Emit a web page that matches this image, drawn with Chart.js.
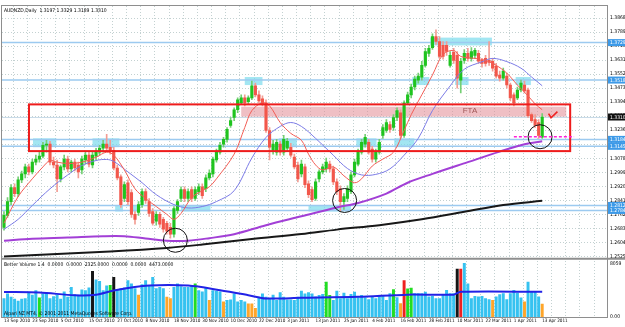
<!DOCTYPE html>
<html>
<head>
<meta charset="utf-8">
<title>AUDNZD Daily</title>
<script src="https://cdn.jsdelivr.net/npm/chart.js@4.4.1/dist/chart.umd.min.js"></script>
<style>
  html, body { margin: 0; padding: 0; background: #fff; }
  canvas { display: block; }
</style>
</head>
<body>
<canvas id="audnzdChart" width="625" height="327"></canvas>
<script>
// AUDNZD daily bars, 13 Sep 2010 .. 13 Apr 2011 (one bar per weekday)
const dateLabels = ['13 Sep 2010', '23 Sep 2010', '5 Oct 2010', '15 Oct 2010', '27 Oct 2010', '8 Nov 2010',
  '18 Nov 2010', '30 Nov 2010', '10 Dec 2010', '22 Dec 2010', '3 Jan 2011', '13 Jan 2011', '25 Jan 2011',
  '4 Feb 2011', '16 Feb 2011', '28 Feb 2011', '10 Mar 2011', '22 Mar 2011', '1 Apr 2011', '13 Apr 2011'];

const opens = [
  1.2689, 1.2756, 1.2834, 1.2912, 1.2879, 1.2956, 1.2990, 1.3029, 1.3001, 1.3056,
  1.3073, 1.3090, 1.3151, 1.3157, 1.3056, 1.3040, 1.2962, 1.3029, 1.3073, 1.3018,
  1.3056, 1.3040, 1.3012, 1.3068, 1.3095, 1.3040, 1.3090, 1.3112, 1.3134, 1.3157,
  1.3140, 1.3123, 1.3023, 1.2973, 1.2851, 1.2940, 1.2884, 1.2762, 1.2773, 1.2817,
  1.2890, 1.2834, 1.2778, 1.2723, 1.2762, 1.2734, 1.2712, 1.2689, 1.2651, 1.2784,
  1.2851, 1.2901, 1.2851, 1.2901, 1.2851, 1.2890, 1.2917, 1.2906, 1.2967, 1.2990,
  1.3068, 1.3112, 1.3157, 1.3184, 1.3262, 1.3307, 1.3351, 1.3390, 1.3418, 1.3396,
  1.3418, 1.3485, 1.3435, 1.3412, 1.3390, 1.3234, 1.3123, 1.3112, 1.3157, 1.3112,
  1.3134, 1.3140, 1.3084, 1.3040, 1.2990, 1.3029, 1.2934, 1.2901, 1.2851, 1.2962,
  1.3001, 1.3018, 1.3045, 1.3018, 1.2945, 1.2906, 1.2834, 1.2851, 1.2890, 1.2984,
  1.3045, 1.3112, 1.3157, 1.3168, 1.3129, 1.3073, 1.3112, 1.3207, 1.3234, 1.3268,
  1.3251, 1.3307, 1.3334, 1.3207, 1.3390, 1.3435, 1.3479, 1.3518, 1.3535, 1.3601,
  1.3668, 1.3701, 1.3763, 1.3735, 1.3713, 1.3713, 1.3601, 1.3674, 1.3657, 1.3518,
  1.3629, 1.3668, 1.3640, 1.3657, 1.3668, 1.3629, 1.3640, 1.3629, 1.3624, 1.3596,
  1.3546, 1.3529, 1.3540, 1.3490, 1.3435, 1.3418, 1.3462, 1.3490, 1.3462, 1.3323,
  1.3296, 1.3279, 1.3197];
const highs = [
  1.2778, 1.2856, 1.2929, 1.2934, 1.2973, 1.3006, 1.3045, 1.3045, 1.3073, 1.3095,
  1.3112, 1.3168, 1.3179, 1.3173, 1.3084, 1.3068, 1.3040, 1.3095, 1.3090, 1.3068,
  1.3073, 1.3056, 1.3090, 1.3112, 1.3112, 1.3112, 1.3134, 1.3151, 1.3179, 1.3212,
  1.3179, 1.3140, 1.3040, 1.2984, 1.2945, 1.2956, 1.2901, 1.2778, 1.2834, 1.2906,
  1.2906, 1.2851, 1.2795, 1.2778, 1.2773, 1.2745, 1.2723, 1.2712, 1.2806, 1.2845,
  1.2917, 1.2917, 1.2906, 1.2917, 1.2917, 1.2934, 1.2934, 1.2984, 1.3012, 1.3084,
  1.3129, 1.3168, 1.3195, 1.3251, 1.3307, 1.3362, 1.3418, 1.3435, 1.3435, 1.3429,
  1.3512, 1.3501, 1.3457, 1.3429, 1.3407, 1.3251, 1.3179, 1.3184, 1.3173, 1.3207,
  1.3190, 1.3162, 1.3101, 1.3056, 1.3068, 1.3045, 1.2951, 1.2917, 1.2962, 1.3012,
  1.3045, 1.3079, 1.3062, 1.3034, 1.2962, 1.2923, 1.2879, 1.2923, 1.3001, 1.3073,
  1.3129, 1.3184, 1.3212, 1.3184, 1.3145, 1.3129, 1.3184, 1.3268, 1.3296, 1.3284,
  1.3323, 1.3362, 1.3351, 1.3401, 1.3451, 1.3496, 1.3540, 1.3557, 1.3624, 1.3696,
  1.3713, 1.3779, 1.3801, 1.3763, 1.3735, 1.3735, 1.3679, 1.3696, 1.3679, 1.3640,
  1.3690, 1.3696, 1.3701, 1.3696, 1.3685, 1.3640, 1.3657, 1.3735, 1.3640, 1.3612,
  1.3568, 1.3585, 1.3557, 1.3501, 1.3446, 1.3479, 1.3518, 1.3512, 1.3473, 1.3334,
  1.3323, 1.3296, 1.3329];
const lows = [
  1.2673, 1.2745, 1.2817, 1.2862, 1.2862, 1.2940, 1.2967, 1.2984, 1.2990, 1.3040,
  1.3056, 1.3079, 1.3112, 1.3040, 1.3023, 1.2890, 1.2945, 1.3012, 1.3001, 1.3001,
  1.3006, 1.2967, 1.2990, 1.3045, 1.3029, 1.3023, 1.3068, 1.3095, 1.3112, 1.3118,
  1.3101, 1.3012, 1.2956, 1.2801, 1.2834, 1.2817, 1.2745, 1.2706, 1.2756, 1.2801,
  1.2823, 1.2751, 1.2701, 1.2701, 1.2689, 1.2662, 1.2651, 1.2628, 1.2634, 1.2767,
  1.2834, 1.2834, 1.2834, 1.2834, 1.2840, 1.2873, 1.2851, 1.2890, 1.2956, 1.2973,
  1.3056, 1.3101, 1.3140, 1.3168, 1.3251, 1.3290, 1.3334, 1.3379, 1.3373, 1.3379,
  1.3407, 1.3423, 1.3390, 1.3373, 1.3223, 1.3068, 1.3101, 1.3095, 1.3095, 1.3095,
  1.3118, 1.3084, 1.3018, 1.2945, 1.2973, 1.2912, 1.2856, 1.2834, 1.2840, 1.2945,
  1.2990, 1.3001, 1.3001, 1.2929, 1.2873, 1.2778, 1.2790, 1.2834, 1.2879, 1.2973,
  1.3034, 1.3101, 1.3140, 1.3101, 1.3056, 1.3056, 1.3101, 1.3190, 1.3223, 1.3223,
  1.3234, 1.3290, 1.3190, 1.3195, 1.3379, 1.3418, 1.3462, 1.3501, 1.3518, 1.3590,
  1.3651, 1.3690, 1.3718, 1.3640, 1.3635, 1.3657, 1.3590, 1.3612, 1.3473, 1.3446,
  1.3612, 1.3624, 1.3624, 1.3640, 1.3612, 1.3590, 1.3596, 1.3601, 1.3568, 1.3529,
  1.3512, 1.3518, 1.3473, 1.3401, 1.3373, 1.3407, 1.3451, 1.3446, 1.3307, 1.3279,
  1.3251, 1.3190, 1.3189];
const closes = [
  1.2756, 1.2834, 1.2912, 1.2879, 1.2956, 1.2990, 1.3029, 1.3001, 1.3056, 1.3073,
  1.3090, 1.3151, 1.3157, 1.3056, 1.3040, 1.2962, 1.3029, 1.3073, 1.3018, 1.3056,
  1.3023, 1.3001, 1.3073, 1.3095, 1.3045, 1.3095, 1.3112, 1.3134, 1.3157, 1.3134,
  1.3123, 1.3023, 1.2967, 1.2817, 1.2929, 1.2834, 1.2762, 1.2734, 1.2817, 1.2890,
  1.2840, 1.2767, 1.2712, 1.2762, 1.2706, 1.2678, 1.2667, 1.2651, 1.2795, 1.2834,
  1.2901, 1.2851, 1.2890, 1.2851, 1.2901, 1.2917, 1.2867, 1.2967, 1.2995, 1.3073,
  1.3112, 1.3151, 1.3184, 1.3240, 1.3290, 1.3351, 1.3407, 1.3418, 1.3390, 1.3418,
  1.3485, 1.3435, 1.3401, 1.3384, 1.3234, 1.3140, 1.3157, 1.3168, 1.3112, 1.3184,
  1.3173, 1.3095, 1.3029, 1.2962, 1.3045, 1.2929, 1.2873, 1.2845, 1.2945, 1.3001,
  1.3029, 1.3056, 1.3018, 1.2945, 1.2890, 1.2834, 1.2862, 1.2906, 1.2984, 1.3056,
  1.3112, 1.3168, 1.3195, 1.3112, 1.3073, 1.3112, 1.3168, 1.3251, 1.3279, 1.3240,
  1.3307, 1.3346, 1.3207, 1.3390, 1.3435, 1.3479, 1.3523, 1.3540, 1.3601, 1.3679,
  1.3696, 1.3763, 1.3735, 1.3651, 1.3651, 1.3679, 1.3657, 1.3629, 1.3529, 1.3624,
  1.3668, 1.3640, 1.3679, 1.3685, 1.3624, 1.3612, 1.3612, 1.3618, 1.3585, 1.3540,
  1.3529, 1.3568, 1.3490, 1.3418, 1.3390, 1.3462, 1.3501, 1.3457, 1.3318, 1.3290,
  1.3262, 1.3207, 1.3310];

// Better Volume (tick volume) per bar
const volumes = [
  2800, 3500, 3000, 2700, 2400, 2700, 2800, 3600, 3300, 4000,
  2900, 3500, 3700, 2800, 3100, 3300, 2700, 3800, 3000, 4500,
  3400, 3300, 4100, 4000, 4400, 6900, 5600, 5400, 4000, 4700,
  4800, 6000, 4100, 4300, 4400, 5500, 5000, 4300, 3300, 4900,
  5500, 4700, 6000, 4300, 4500, 4300, 3000, 2800, 4500, 5000,
  4600, 4500, 4500, 4800, 5000, 4000, 3800, 4500, 2500, 4000,
  3900, 3800, 2300, 2500, 2600, 3500, 2300, 2500, 2300, 2000,
  2000, 1300, 3000, 3500, 3000, 2800, 3300, 2500, 3700, 3000,
  2600, 2600, 2500, 3000, 3900, 3500, 3700, 3500, 3030, 3280,
  3430, 5260, 3280, 2530, 3930, 2780, 3630, 2780, 3430, 3780,
  2930, 3280, 2930, 2630, 3130, 2780, 3130, 3130, 2530, 3530,
  4130, 2930, 2040, 5510, 4270, 4370, 3530, 3530, 3530, 3780,
  3030, 3130, 2780, 2780, 3280, 4020, 3530, 3530, 7250, 7250,
  8100, 5010, 2780, 3130, 3030, 3130, 2780, 2630, 2530, 3030,
  3380, 3530, 2630, 3530, 4020, 3630, 2880, 2290, 5260, 3780,
  3780, 3030, 1940];
const lowVolumeBars = [38, 46, 47, 58, 62, 69, 70, 71, 112, 138, 147, 152];
const churnBars = [10, 30, 54, 91, 92, 110, 114, 115];
const climaxUpBars = [113, 129];
const climaxDownBars = [25, 31, 128];
const volumeAverage = [[0, 3780], [10, 3700], [20, 3280], [26, 3350], [31, 4000], [41, 4750], [52, 4750],
  [61, 4050], [69, 3300], [74, 2800], [84, 2900], [100, 3050], [114, 3380], [127, 3380], [129, 3800], [152, 3800]];

// moving averages: [bar, price]
const fastMA = [[0, 1.2712], [4, 1.2862], [8, 1.2962], [11, 1.3029], [13, 1.3065], [15, 1.3056], [18, 1.3048],
  [22, 1.3056], [26, 1.3084], [29, 1.3112], [31, 1.3095], [34, 1.3012], [37, 1.2906], [40, 1.2851], [43, 1.2806],
  [46, 1.2762], [48, 1.2734], [50, 1.2767], [53, 1.2856], [56, 1.2895], [58, 1.2917], [60, 1.2962], [65, 1.3101],
  [68, 1.3251], [70, 1.3346], [73, 1.3390], [75, 1.3373], [78, 1.3279], [81, 1.3218], [84, 1.3179], [86, 1.3101],
  [88, 1.3040], [90, 1.3012], [93, 1.3029], [96, 1.2979], [99, 1.2940], [101, 1.2962], [104, 1.3034], [107, 1.3073],
  [110, 1.3112], [113, 1.3234], [115, 1.3323], [118, 1.3435], [121, 1.3546], [124, 1.3662], [127, 1.3685],
  [129, 1.3651], [133, 1.3640], [136, 1.3629], [139, 1.3601], [142, 1.3557], [145, 1.3490], [148, 1.3429],
  [150, 1.3384], [152, 1.3351]];
const slowMA = [[0, 1.2678], [4, 1.2734], [8, 1.2812], [13, 1.2906], [18, 1.2984], [22, 1.3037], [26, 1.3065],
  [29, 1.3071], [31, 1.3060], [35, 1.3001], [39, 1.2940], [43, 1.2873], [48, 1.2817], [52, 1.2798], [56, 1.2806],
  [60, 1.2834], [65, 1.2895], [70, 1.3079], [74, 1.3195], [78, 1.3257], [81, 1.3279], [84, 1.3257], [88, 1.3190],
  [93, 1.3095], [97, 1.3020], [101, 1.2984], [105, 1.2987], [109, 1.3018], [113, 1.3095], [117, 1.3190],
  [121, 1.3346], [126, 1.3485], [130, 1.3579], [135, 1.3621], [138, 1.3640], [142, 1.3622], [146, 1.3585],
  [149, 1.3535], [152, 1.3486]];
const ma100 = [[0, 1.2614], [8, 1.2624], [18, 1.2631], [28, 1.2639], [34, 1.2639], [40, 1.2626], [46, 1.2614],
  [52, 1.2614], [58, 1.2628], [65, 1.2650], [74, 1.2701], [84, 1.2751], [94, 1.2801], [100, 1.2826], [108, 1.2879],
  [114, 1.2940], [121, 1.2990], [131, 1.3056], [140, 1.3115], [147, 1.3157], [152, 1.3173]];
const ma200 = [[0, 1.2525], [15, 1.2539], [30, 1.2553], [46, 1.2573], [56, 1.2592], [70, 1.2623], [84, 1.2651],
  [94, 1.2676], [106, 1.2701], [118, 1.2734], [130, 1.2776], [141, 1.2815], [152, 1.2838]];

// price scale labels and drawn levels
const priceTicks = [1.3868, 1.3789, 1.3710, 1.3631, 1.3552, 1.3473, 1.3394, 1.3315, 1.3236, 1.3157,
  1.3078, 1.2999, 1.2920, 1.2841, 1.2762, 1.2683, 1.2604, 1.2525];
const levels = [1.3729, 1.3518, 1.3184, 1.3145, 1.2812, 1.2784];
const lastPrice = 1.3310;
// shaded zones: [fromBar, toBar, upperPrice, lowerPrice]
const zones = [[8.2, 14.8, 1.3190, 1.3140], [25, 32.6, 1.3190, 1.3140], [68, 73, 1.3535, 1.3490],
  [77.6, 82.7, 1.3190, 1.3140], [99.5, 105.2, 1.3190, 1.3140], [110.2, 115.9, 1.3190, 1.3140],
  [115.3, 120.1, 1.3535, 1.3490], [120.4, 137.8, 1.3757, 1.3713], [127.4, 131.2, 1.3535, 1.3490],
  [144.5, 148.8, 1.3535, 1.3490], [31.4, 33.6, 1.2812, 1.2778], [36, 37.7, 1.2812, 1.2778],
  [50, 58.3, 1.2812, 1.2778], [86, 98, 1.2812, 1.2778]];
const ftaBand = [67, 158.8, 1.3368, 1.3312];
const keyBox = [7.06, 159.9, 1.3381, 1.3118];
const circles = [[48.4, 1.2616], [96.2, 1.2840], [151.4, 1.3199]];
const entryLine = [144, 161, 1.3199];

const fontFamily = "'Liberation Sans Narrow', 'DejaVu Sans Condensed', 'Liberation Sans', sans-serif";
const bars = closes.map((c, i) => i);
const rising = bars.map(i => closes[i] >= opens[i]);

function volumeColor(i) {
  if (climaxUpBars.includes(i)) return '#ee2020';
  if (climaxDownBars.includes(i)) return '#151515';
  if (churnBars.includes(i)) return '#22dd22';
  if (lowVolumeBars.includes(i)) return '#ffa52a';
  return '#36c2f0';
}

function maLine(points, color, width, order) {
  return {
    type: 'line', data: points.map(p => ({ x: p[0], y: p[1] })), yAxisID: 'y',
    borderColor: color, borderWidth: width, pointRadius: 0, tension: 0.35, order: order
  };
}

const drawings = {
  id: 'drawings',
  beforeDatasetsDraw(chart) {
    const { ctx, chartArea: a, scales: { x, y, yv } } = chart;
    ctx.save();
    // dotted grid
    ctx.strokeStyle = '#c3d1d1';
    ctx.lineWidth = 1;
    ctx.setLineDash([1, 2]);
    ctx.beginPath();
    priceTicks.forEach(v => {
      const py = Math.round(y.getPixelForValue(v)) + 0.5;
      ctx.moveTo(a.left, py); ctx.lineTo(a.right, py);
    });
    for (let b = 2.5; b < x.max; b += 4) {
      const px = Math.round(x.getPixelForValue(b)) + 0.5;
      ctx.moveTo(px, a.top); ctx.lineTo(px, a.bottom);
    }
    ctx.stroke();
    ctx.setLineDash([]);

    // support / resistance zones
    ctx.fillStyle = 'rgba(122, 220, 236, 0.7)';
    zones.forEach(([b0, b1, p0, p1]) => {
      const x0 = x.getPixelForValue(b0), x1 = x.getPixelForValue(b1);
      const y0 = y.getPixelForValue(p0), y1 = y.getPixelForValue(p1);
      ctx.fillRect(x0, y0, x1 - x0, y1 - y0);
    });
    // FTA band
    ctx.fillStyle = 'rgba(226, 138, 148, 0.55)';
    {
      const x0 = x.getPixelForValue(ftaBand[0]), x1 = x.getPixelForValue(ftaBand[1]);
      const y0 = y.getPixelForValue(ftaBand[2]), y1 = y.getPixelForValue(ftaBand[3]);
      ctx.fillRect(x0, y0, x1 - x0, y1 - y0);
    }
    // horizontal levels
    ctx.strokeStyle = '#9ccaf0';
    ctx.lineWidth = 1.5;
    ctx.beginPath();
    levels.forEach(v => {
      const py = y.getPixelForValue(v);
      ctx.moveTo(a.left, py); ctx.lineTo(a.right, py);
    });
    ctx.stroke();
    ctx.strokeStyle = '#c9dbe8';
    ctx.lineWidth = 1;
    ctx.beginPath();
    const bidY = Math.round(y.getPixelForValue(lastPrice)) + 0.5;
    ctx.moveTo(a.left, bidY); ctx.lineTo(a.right, bidY);
    ctx.stroke();
    ctx.restore();
  },
  afterDatasetsDraw(chart) {
    const { ctx, chartArea: a, scales: { x, y, yv } } = chart;
    ctx.save();
    // key area box
    ctx.strokeStyle = '#ee1c1c';
    ctx.lineWidth = 2;
    {
      const x0 = x.getPixelForValue(keyBox[0]), x1 = x.getPixelForValue(keyBox[1]);
      const y0 = y.getPixelForValue(keyBox[2]), y1 = y.getPixelForValue(keyBox[3]);
      ctx.strokeRect(x0, y0, x1 - x0, y1 - y0);
    }
    // circles
    ctx.strokeStyle = '#111';
    ctx.lineWidth = 1;
    circles.forEach(([b, p]) => {
      ctx.beginPath();
      ctx.arc(x.getPixelForValue(b), y.getPixelForValue(p), 12, 0, Math.PI * 2);
      ctx.stroke();
    });
    // entry line
    ctx.strokeStyle = '#ff1fd8';
    ctx.lineWidth = 1.5;
    ctx.setLineDash([3, 2]);
    ctx.beginPath();
    ctx.moveTo(x.getPixelForValue(entryLine[0]), y.getPixelForValue(entryLine[2]));
    ctx.lineTo(x.getPixelForValue(entryLine[1]), y.getPixelForValue(entryLine[2]));
    ctx.stroke();
    ctx.setLineDash([]);
    // check mark
    ctx.strokeStyle = '#ee2222';
    ctx.lineWidth = 1.6;
    ctx.beginPath();
    ctx.moveTo(x.getPixelForValue(153.8), y.getPixelForValue(1.3329));
    ctx.lineTo(x.getPixelForValue(154.5), y.getPixelForValue(1.3306));
    ctx.lineTo(x.getPixelForValue(156.3), y.getPixelForValue(1.3340));
    ctx.stroke();
    // FTA label
    ctx.fillStyle = '#a05656';
    ctx.font = '8px "Liberation Sans", sans-serif';
    ctx.textAlign = 'center';
    ctx.textBaseline = 'middle';
    ctx.fillText('FTA', x.getPixelForValue(131.6), y.getPixelForValue(1.3346));

    // panel frame
    ctx.strokeStyle = '#8e8e8e';
    ctx.lineWidth = 1;
    ctx.strokeRect(a.left - 0.5, a.top - 0.5, a.right - a.left + 1, a.bottom - a.top + 1);
    ctx.lineWidth = 2;
    ctx.beginPath();
    ctx.moveTo(a.left - 1, y.bottom); ctx.lineTo(a.right + 18, y.bottom);
    ctx.stroke();

    // texts
    ctx.fillStyle = '#000';
    ctx.font = '5px ' + fontFamily;
    ctx.textAlign = 'left';
    ctx.textBaseline = 'middle';
    ctx.fillText('AUDNZD,Daily  1.3197 1.3329 1.3189 1.3310', a.left + 2, a.top + 5);
    ctx.fillText('Better Volume 1.4  0.0000  0.0000  2325.0000  0.0000  0.0000  4473.0000', a.left + 2, yv.top + 6);
    ctx.fillText('Alpari NZ MT4, \u00a9 2001-2011 MetaQuotes Software Corp.', a.left + 2, yv.bottom - 3);

    // price labels on the axis
    const tag = (v, bg) => {
      const py = y.getPixelForValue(v);
      ctx.fillStyle = bg;
      ctx.fillRect(a.right + 1, py - 3.5, 17, 7);
      ctx.fillStyle = '#fff';
      ctx.fillText(v.toFixed(4), a.right + 3, py + 0.5);
    };
    levels.forEach(v => tag(v, '#3d9ae8'));
    tag(lastPrice, '#111');
    ctx.restore();
  }
};

new Chart(document.getElementById('audnzdChart').getContext('2d'), {
  type: 'bar',
  data: {
    datasets: [
      { label: 'wicks', data: bars.map(i => ({ x: i, y: [lows[i], highs[i]] })), yAxisID: 'y',
        backgroundColor: rising.map(u => u ? '#74cf74' : '#f29d94'), barThickness: 1, grouped: false, order: 10 },
      { label: 'bodies', data: bars.map(i => ({ x: i, y: [opens[i], closes[i]] })), yAxisID: 'y',
        backgroundColor: rising.map(u => u ? '#1fc41f' : '#f2574b'), barThickness: 2.5, minBarLength: 1,
        grouped: false, order: 9 },
      maLine(slowMA, '#7b7be6', 1, 4),
      maLine(fastMA, '#f25d55', 1, 3),
      maLine(ma100, '#a23fd6', 2, 2),
      maLine(ma200, '#181818', 2, 1),
      { label: 'volume', data: bars.map(i => ({ x: i, y: volumes[i] })), yAxisID: 'yv',
        backgroundColor: bars.map(volumeColor), barThickness: 2.3, grouped: false, order: 8 },
      { type: 'line', data: volumeAverage.map(p => ({ x: p[0], y: p[1] })), yAxisID: 'yv',
        borderColor: '#2222e6', borderWidth: 2, pointRadius: 0, tension: 0.3, order: 0 }
    ]
  },
  options: {
    responsive: false,
    animation: false,
    events: [],
    layout: { padding: { left: 2, top: 2, right: 0, bottom: 0 } },
    plugins: { legend: { display: false }, tooltip: { enabled: false } },
    scales: {
      x: {
        type: 'linear', position: 'bottom', min: -0.56, max: 170.3, offset: false,
        afterBuildTicks: s => { s.ticks = dateLabels.map((d, k) => ({ value: k * 8 })); },
        afterFit: s => { s.height = 10; },
        ticks: { callback: (v, k) => dateLabels[k], align: 'start', autoSkip: false, maxRotation: 0,
          padding: 1, color: '#000', font: { family: fontFamily, size: 4.6 } },
        grid: { display: false, drawTicks: false }, border: { display: false }
      },
      y: {
        type: 'linear', position: 'right', stack: 'panes', stackWeight: 256, min: 1.2512, max: 1.3935,
        afterBuildTicks: s => { s.ticks = priceTicks.map(v => ({ value: v })); },
        afterFit: s => { s.width = 18; },
        ticks: { callback: v => v.toFixed(4), autoSkip: false, padding: 3, color: '#000',
          font: { family: fontFamily, size: 5 } },
        grid: { display: false, drawTicks: false }, border: { display: false }
      },
      yv: {
        type: 'linear', position: 'right', stack: 'panes', stackWeight: 59, min: 0, max: 8800,
        afterBuildTicks: s => { s.ticks = [{ value: 8059 }, { value: 0 }]; },
        afterFit: s => { s.width = 18; },
        ticks: { callback: v => v === 0 ? '0.00' : String(v), autoSkip: false, padding: 3, color: '#000',
          font: { family: fontFamily, size: 5 } },
        grid: { display: false, drawTicks: false }, border: { display: false }
      }
    }
  },
  plugins: [drawings]
});
</script>
</body>
</html>
